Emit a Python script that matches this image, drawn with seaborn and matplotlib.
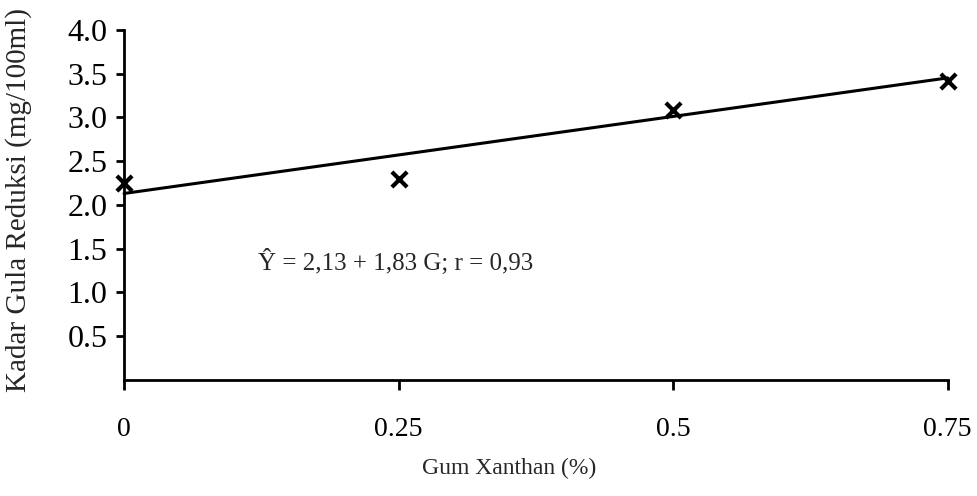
import numpy as np
import pandas as pd
import matplotlib
matplotlib.use("Agg")
import matplotlib.pyplot as plt
import seaborn as sns

gum = [0, 0.25, 0.5, 0.75]
gula = [2.25, 2.30, 3.08, 3.42]

# fitted line endpoints
fit_x = [0, 0.75]
fit_y = [2.13, 3.45]

x_ticks = [0, 0.25, 0.5, 0.75]
x_labels = ["0", "0.25", "0.5", "0.75"]
y_ticks = [0.5, 1.0, 1.5, 2.0, 2.5, 3.0, 3.5, 4.0]
y_labels = ["0.5", "1.0", "1.5", "2.0", "2.5", "3.0", "3.5", "4.0"]

equation = "Ŷ = 2,13 + 1,83 G; r = 0,93"

sns.set_style("ticks")
plt.rcParams["font.family"] = ["Liberation Serif", "DejaVu Serif"]

fig = plt.figure(figsize=(9.77, 4.96), dpi=100)
ax = fig.add_axes([0.127, 0.234, 0.843, 0.706])

df_pts = pd.DataFrame({"gum": gum, "gula": gula})
df_fit = pd.DataFrame({"gum": fit_x, "gula": fit_y})

sns.lineplot(data=df_fit, x="gum", y="gula", ax=ax, color="black",
             linewidth=2.2, clip_on=False)
sns.scatterplot(data=df_pts, x="gum", y="gula", ax=ax, marker="x",
                s=120, color="black", linewidth=3.0, clip_on=False, zorder=5)

ax.set_xlim(0, 0.75)
ax.set_ylim(0, 4.0)
ax.set_xticks(x_ticks)
ax.set_xticklabels(x_labels)
ax.set_yticks(y_ticks)
ax.set_yticklabels(y_labels)

for s in ["top", "right"]:
    ax.spines[s].set_visible(False)
for s in ["left", "bottom"]:
    ax.spines[s].set_linewidth(2.0)
    ax.spines[s].set_color("black")

ax.tick_params(axis="y", direction="out", length=6, width=2.0,
               labelsize=23, pad=6, colors="black")
ax.tick_params(axis="x", direction="out", length=7, width=2.0,
               labelsize=20, pad=20, colors="black")

ax.set_xlabel("Gum Xanthan (%)", fontsize=17)
ax.set_ylabel("Kadar Gula Reduksi (mg/100ml)", fontsize=21)
ax.xaxis.set_label_coords(0.467, -0.222)
ax.yaxis.set_label_coords(-0.112, 0.514)

ax.text(0.122, 1.35, equation, fontsize=18, va="center", ha="left")

fig.savefig("out.png", dpi=100)
